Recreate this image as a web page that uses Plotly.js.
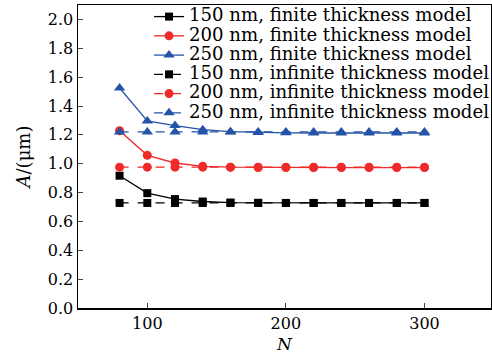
<!DOCTYPE html>
<html><head><meta charset="utf-8">
<script src="https://cdn.plot.ly/plotly-3.0.1.min.js"></script>
<style>html,body{margin:0;padding:0;background:#fff}#c{width:492px;height:356px}
#c .legendtext{font-size:18.1px !important}
#c .legend .scrollbox{clip-path:none !important}
#c .legend{clip-path:none !important}</style>
</head><body><div id="c"></div>
<script>
const N = [80,100,120,140,160,180,200,220,240,260,280,300];
const fin150 = [0.917,0.796,0.755,0.738,0.731,0.729,0.728,0.728,0.728,0.728,0.728,0.728];
const fin200 = [1.229,1.058,1.005,0.982,0.976,0.974,0.973,0.973,0.973,0.973,0.973,0.973];
const fin250 = [1.525,1.296,1.264,1.236,1.222,1.216,1.214,1.213,1.213,1.213,1.213,1.213];
const inf150 = [0.728,0.728,0.728,0.728,0.728,0.728,0.728,0.728,0.728,0.728,0.728,0.728];
const inf200 = [0.976,0.976,0.976,0.976,0.976,0.976,0.976,0.976,0.976,0.976,0.976,0.976];
const inf250 = [1.220,1.220,1.220,1.220,1.220,1.220,1.220,1.220,1.220,1.220,1.220,1.220];
const names = ["150 nm, finite thickness model","200 nm, finite thickness model","250 nm, finite thickness model",
  "150 nm, infinite thickness model","200 nm, infinite thickness model","250 nm, infinite thickness model"];
const BLACK="#000000", RED="#ee2a2a", BLUE="#2553a8";
function tr(y,name,color,sym,size,dash){
  return {x:N,y:y,name:name,type:'scatter',mode:'lines+markers',
    line:{color:color,width:1.3,dash:dash},marker:{color:color,symbol:sym,size:size}};
}
const data=[
  tr(fin150,names[0],BLACK,'square',8,'solid'),
  tr(fin200,names[1],RED,'circle',9,'solid'),
  tr(fin250,names[2],BLUE,'triangle-up',10,'solid'),
  tr(inf150,names[3],BLACK,'square',8,'dash'),
  tr(inf200,names[4],RED,'circle',9,'dash'),
  tr(inf250,names[5],BLUE,'triangle-up',10,'dash')
];
const F="DejaVu Serif";
const layout={
  width:492,height:356,margin:{l:78,r:1,t:5,b:48},
  paper_bgcolor:'#fff',plot_bgcolor:'#fff',
  font:{family:F,size:16,color:'#000'},
  showlegend:true,
  legend:{x:0.172,xanchor:'left',y:1.01,yanchor:'top',bgcolor:'rgba(0,0,0,0)',borderwidth:0,
    font:{family:F,size:12.5,color:'#000'},tracegroupgap:0,itemwidth:30},
  xaxis:{range:[50,348],tickvals:[100,200,300],ticks:'inside',ticklen:5,tickwidth:1,
    showline:true,linecolor:'#000',linewidth:1.5,mirror:true,showgrid:false,zeroline:false,
    title:{text:'<i>N</i>',standoff:6,font:{family:F,size:17}},tickfont:{family:F,size:16}},
  yaxis:{range:[0,2.1],tickvals:[0,0.2,0.4,0.6,0.8,1.0,1.2,1.4,1.6,1.8,2.0],
    ticktext:['0.0','0.2','0.4','0.6','0.8','1.0','1.2','1.4','1.6','1.8','2.0'],
    ticks:'inside',ticklen:5,tickwidth:1,
    showline:true,linecolor:'#000',linewidth:1.5,mirror:true,showgrid:false,zeroline:false,
    title:{text:'<i>A</i>/(μm)',standoff:12,font:{family:F,size:18}},tickfont:{family:F,size:16}}
};
Plotly.newPlot('c',data,layout,{displayModeBar:false,staticPlot:true});
</script></body></html>
